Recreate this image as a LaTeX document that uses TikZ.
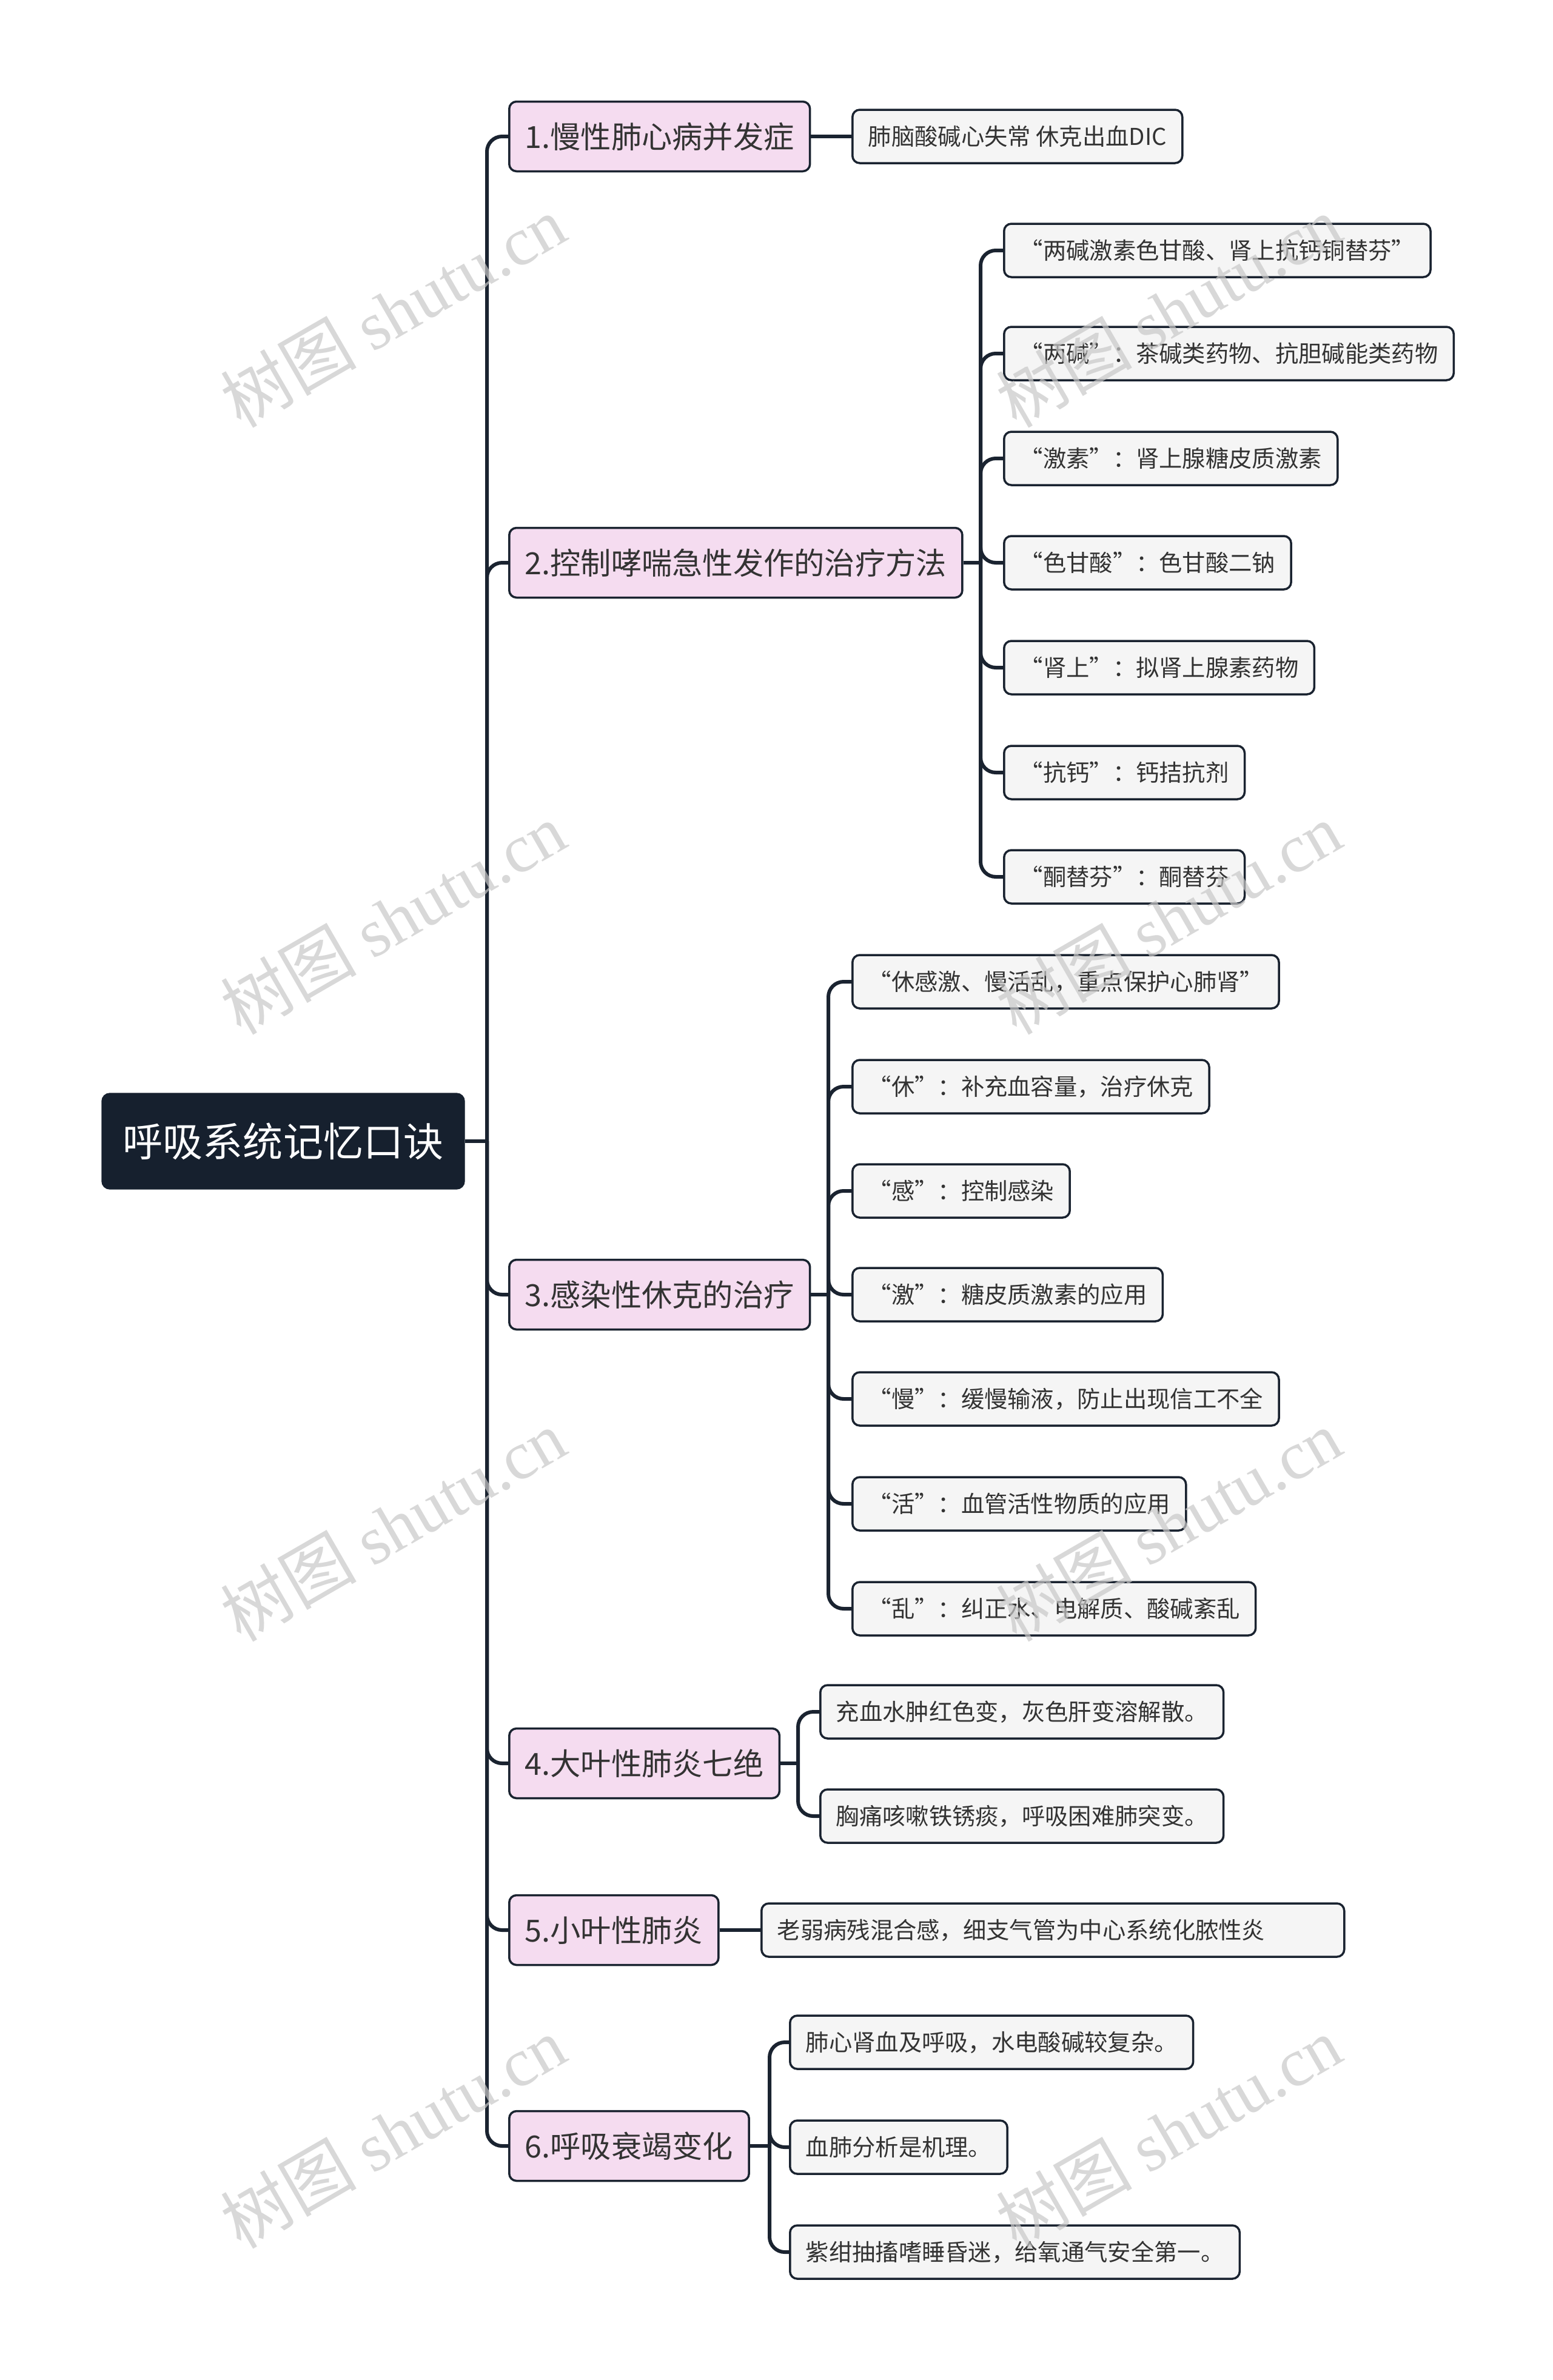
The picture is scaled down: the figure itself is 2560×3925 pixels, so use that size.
\documentclass[tikz,border=0pt]{standalone}
\usepackage{fontspec}
\setmainfont{Noto Sans CJK SC}
\newfontfamily\wmlatin{Liberation Serif}
\definecolor{navy}{HTML}{16202E}
\definecolor{linec}{HTML}{1A2330}
\definecolor{pinkf}{HTML}{F5DCF0}
\definecolor{grayf}{HTML}{F5F5F5}
\definecolor{txt}{HTML}{333333}
\definecolor{wm}{HTML}{C8C8C8}
\tikzset{
  rootbox/.style={fill=navy, draw=navy, rounded corners=1.3mm, text=white,
    font=\fontsize{18.8pt}{22pt}\selectfont, minimum width=59.8mm, minimum height=15.8mm, inner sep=0pt},
  lvone/.style={fill=pinkf, draw=linec, line width=0.35mm, rounded corners=1.2mm, text=txt,
    font=\fontsize{14.3pt}{17pt}\selectfont, minimum height=11.5mm, inner xsep=2.6mm, inner ysep=0pt, anchor=west},
  lvtwo/.style={fill=grayf, draw=linec, line width=0.35mm, rounded corners=1.2mm, text=txt,
    font=\fontsize{10.9pt}{13pt}\selectfont, minimum height=8.8mm, inner xsep=2.6mm, inner ysep=0pt, anchor=west},
  conn/.style={draw=linec, line width=0.6mm, rounded corners=2.5mm},
  wmark/.style={text=wm, opacity=0.7, rotate=30, font=\fontsize{32pt}{36pt}\selectfont},
}
\begin{document}
\begin{tikzpicture}[x=0.1mm, y=-0.1mm]
\useasboundingbox (0,0) rectangle (2560,3925);
\fill[white] (0,0) rectangle (2560,3925);
% spine coordinates
\coordinate (s0) at (803,0);
\coordinate (s2) at (1617,0);
\coordinate (s3) at (1366,0);
\coordinate (s4) at (1316,0);
\coordinate (s6) at (1269,0);
% root
\node[rootbox] (root) at (467,1882) {呼吸系统记忆口诀};
% level one
\node[lvone] (a1) at (838,225) {1.慢性肺心病并发症};
\node[lvone] (a2) at (838,928) {2.控制哮喘急性发作的治疗方法};
\node[lvone] (a3) at (838,2135) {3.感染性休克的治疗};
\node[lvone] (a4) at (838,2908) {4.大叶性肺炎七绝};
\node[lvone] (a5) at (838,3183) {5.小叶性肺炎};
\node[lvone] (a6) at (838,3539) {6.呼吸衰竭变化};
% level two
\node[lvtwo] (b11) at (1404,225) {肺脑酸碱心失常 休克出血DIC};
\node[lvtwo] (b21) at (1654,413) {“两碱激素色甘酸、肾上抗钙铜替芬”};
\node[lvtwo] (b22) at (1654,583) {“两碱”：茶碱类药物、抗胆碱能类药物};
\node[lvtwo] (b23) at (1654,756) {“激素”：肾上腺糖皮质激素};
\node[lvtwo] (b24) at (1654,928) {“色甘酸”：色甘酸二钠};
\node[lvtwo] (b25) at (1654,1101) {“肾上”：拟肾上腺素药物};
\node[lvtwo] (b26) at (1654,1274) {“抗钙”：钙拮抗剂};
\node[lvtwo] (b27) at (1654,1446) {“酮替芬”：酮替芬};
\node[lvtwo] (b31) at (1404,1619) {“休感激、慢活乱，重点保护心肺肾”};
\node[lvtwo] (b32) at (1404,1792) {“休”：补充血容量，治疗休克};
\node[lvtwo] (b33) at (1404,1964) {“感”：控制感染};
\node[lvtwo] (b34) at (1404,2135) {“激”：糖皮质激素的应用};
\node[lvtwo] (b35) at (1404,2307) {“慢”：缓慢输液，防止出现信工不全};
\node[lvtwo] (b36) at (1404,2480) {“活”：血管活性物质的应用};
\node[lvtwo] (b37) at (1404,2653) {“乱”：纠正水、电解质、酸碱紊乱};
\node[lvtwo] (b41) at (1351,2823) {充血水肿红色变，灰色肝变溶解散。};
\node[lvtwo] (b42) at (1351,2995) {胸痛咳嗽铁锈痰，呼吸困难肺突变。};
\node[lvtwo, text width=90.9mm, align=left] (b51) at (1254,3183) {老弱病残混合感，细支气管为中心系统化脓性炎};
\node[lvtwo] (b61) at (1301,3368) {肺心肾血及呼吸，水电酸碱较复杂。};
\node[lvtwo] (b62) at (1301,3541) {血肺分析是机理。};
\node[lvtwo] (b63) at (1301,3714) {紫绀抽搐嗜睡昏迷，给氧通气安全第一。};
% connectors root -> level one
\draw[conn] (root.east) -- (root.east -| s0);
\foreach \n in {a1,a2,a3,a4,a5,a6}
  \draw[conn] (root.east -| s0) |- (\n.west);
% 1
\draw[conn] (a1.east) -- (b11.west);
% 2
\draw[conn] (a2.east) -- (a2.east -| s2);
\foreach \n in {b21,b22,b23,b24,b25,b26,b27}
  \draw[conn] (a2.east -| s2) |- (\n.west);
% 3
\draw[conn] (a3.east) -- (a3.east -| s3);
\foreach \n in {b31,b32,b33,b34,b35,b36,b37}
  \draw[conn] (a3.east -| s3) |- (\n.west);
% 4
\draw[conn] (a4.east) -- (a4.east -| s4);
\foreach \n in {b41,b42}
  \draw[conn] (a4.east -| s4) |- (\n.west);
% 5
\draw[conn] (a5.east) -- (b51.west);
% 6
\draw[conn] (a6.east) -- (a6.east -| s6);
\foreach \n in {b61,b62,b63}
  \draw[conn] (a6.east -| s6) |- (\n.west);
% watermarks
\foreach \wy [count=\i] in {513,1514,2515,3516} {
  \node[wmark] (wl\i) at (648,\wy) {树图 {\wmlatin shutu.cn}};
  \node[wmark] (wr\i) at (1927,\wy) {树图 {\wmlatin shutu.cn}};
}
\end{tikzpicture}
\end{document}
